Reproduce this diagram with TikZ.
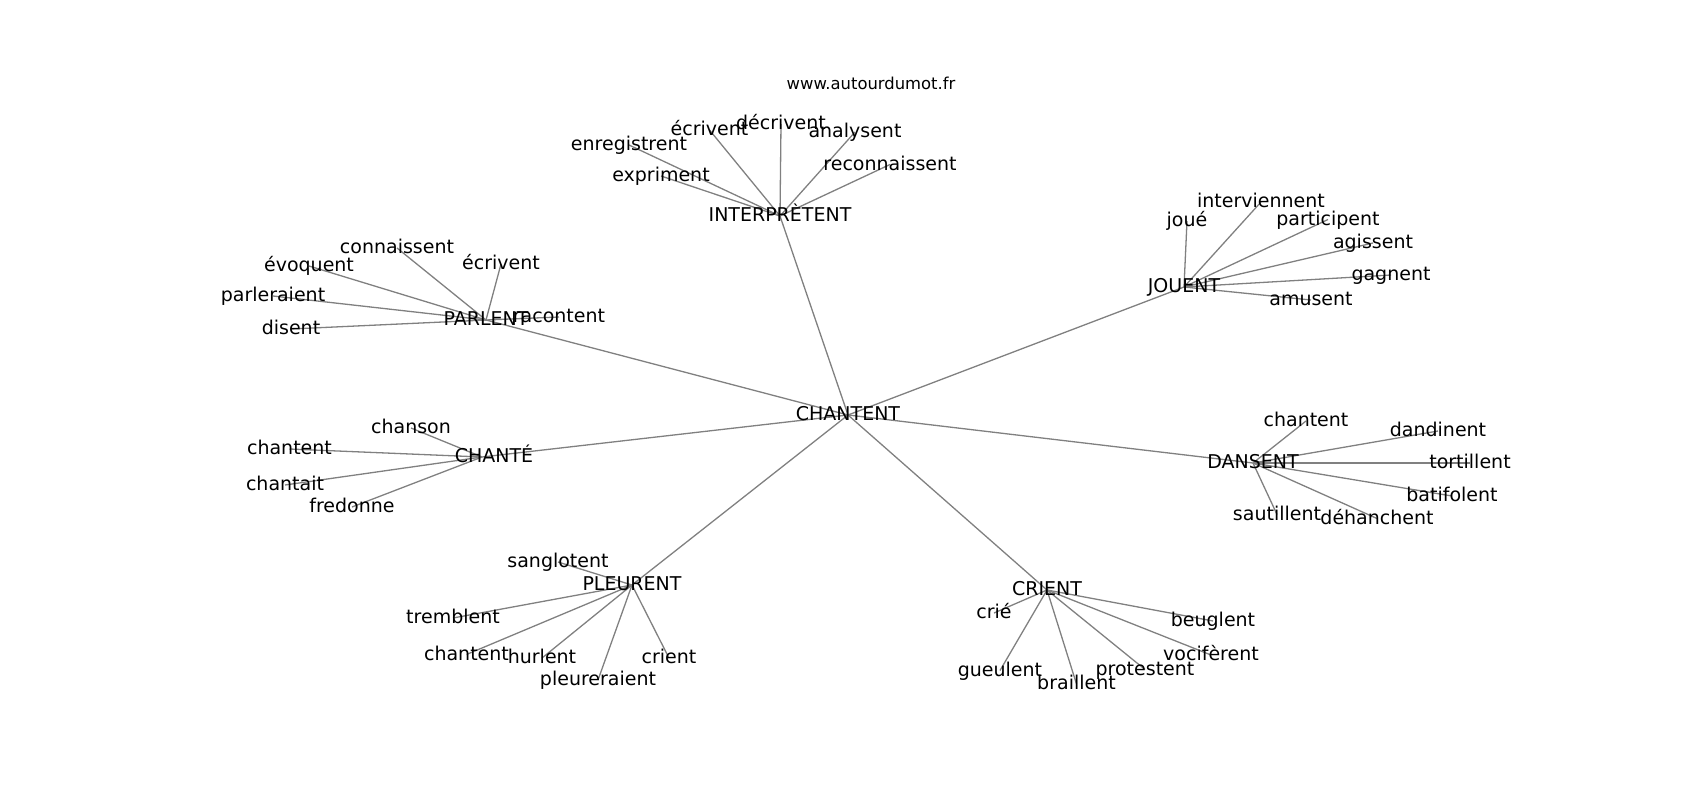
\documentclass[tikz,border=0pt]{standalone}
\usepackage{fontspec}
\setmainfont{DejaVu Sans}
\usetikzlibrary{backgrounds}
\begin{document}
\begin{tikzpicture}[x=1pt, y=-1pt,
  lbl/.style={inner sep=0pt, outer sep=0pt, text height=14.25pt, text depth=3.25pt, font=\fontsize{19}{23}\selectfont},
  edge/.style={draw=gray, line width=1.3pt}]
\useasboundingbox (0,0) rectangle (1700,800);
\node[anchor=base, font=\fontsize{16.4}{20}\selectfont] (site) at (871,89){www.autourdumot.fr};
\node[lbl] (wid0) at (848,415){CHANTENT};
% INTERPRETENT
\node[lbl] (wid1) at (780,216){INTERPRÈTENT};
\node[lbl] (wid10) at (629,145){enregistrent};
\node[lbl] (wid11) at (661,176){expriment};
\node[lbl] (wid12) at (709.5,130){écrivent};
\node[lbl] (wid13) at (781,124){décrivent};
\node[lbl] (wid14) at (855,132){analysent};
\node[lbl] (wid15) at (890,164.5){reconnaissent};
% PARLENT
\node[lbl] (wid2) at (486,320){PARLENT};
\node[lbl] (wid20) at (397,248){connaissent};
\node[lbl] (wid21) at (309,266){évoquent};
\node[lbl] (wid22) at (501,264){écrivent};
\node[lbl] (wid23) at (273,296){parleraient};
\node[lbl] (wid24) at (291,329){disent};
\node[lbl] (wid25) at (559,317){racontent};
% JOUENT
\node[lbl] (wid3) at (1184,287){JOUENT};
\node[lbl] (wid30) at (1187,221){joué};
\node[lbl] (wid31) at (1261,202){interviennent};
\node[lbl] (wid32) at (1328,219.5){participent};
\node[lbl] (wid33) at (1373,243){agissent};
\node[lbl] (wid34) at (1391,275){gagnent};
\node[lbl] (wid35) at (1311,300){amusent};
% CHANTE
\coordinate (wid4) at (482,457);
\node[lbl] (wid4t) at ([xshift=12pt]wid4){CHANTÉ};
\node[lbl] (wid40) at (411,428){chanson};
\node[lbl] (wid41) at (289.5,449){chantent};
\node[lbl] (wid42) at (285,485){chantait};
\node[lbl] (wid43) at (352,507){fredonne};
% DANSENT
\node[lbl] (wid5) at (1253,463){DANSENT};
\node[lbl] (wid50) at (1306,421){chantent};
\node[lbl] (wid51) at (1438,431){dandinent};
\node[lbl] (wid52) at (1470,463){tortillent};
\node[lbl] (wid53) at (1452,496){batifolent};
\node[lbl] (wid54) at (1377,518.5){déhanchent};
\node[lbl] (wid55) at (1277,514.5){sautillent};
% PLEURENT
\node[lbl] (wid6) at (632,585){PLEURENT};
\node[lbl] (wid60) at (558,562){sanglotent};
\node[lbl] (wid61) at (453,618){tremblent};
\node[lbl] (wid62) at (466.5,654.5){chantent};
\node[lbl] (wid63) at (542,658){hurlent};
\node[lbl] (wid64) at (598,680){pleureraient};
\node[lbl] (wid65) at (669,658){crient};
% CRIENT
\node[lbl] (wid7) at (1047,590){CRIENT};
\node[lbl] (wid70) at (994,613){crié};
\node[lbl] (wid71) at (1000,670.5){gueulent};
\node[lbl] (wid72) at (1076.5,684){braillent};
\node[lbl] (wid73) at (1145,669.5){protestent};
\node[lbl] (wid74) at (1211,655){vocifèrent};
\node[lbl] (wid75) at (1213,621){beuglent};
\begin{scope}[on background layer]
\foreach \i in {1,2,3,4,5,6,7}
  \draw[edge](wid0.center) -- (wid\i.center);
\foreach \i in {10,...,15}
  \draw[edge](wid1.center) -- (wid\i.center);
\foreach \i in {20,...,25}
  \draw[edge](wid2.center) -- (wid\i.center);
\foreach \i in {30,...,35}
  \draw[edge](wid3.center) -- (wid\i.center);
\foreach \i in {40,...,43}
  \draw[edge](wid4) -- (wid\i.center);
\foreach \i in {50,...,55}
  \draw[edge](wid5.center) -- (wid\i.center);
\foreach \i in {60,...,65}
  \draw[edge](wid6.center) -- (wid\i.center);
\foreach \i in {70,...,75}
  \draw[edge](wid7.center) -- (wid\i.center);
\end{scope}
\end{tikzpicture}
\end{document}
